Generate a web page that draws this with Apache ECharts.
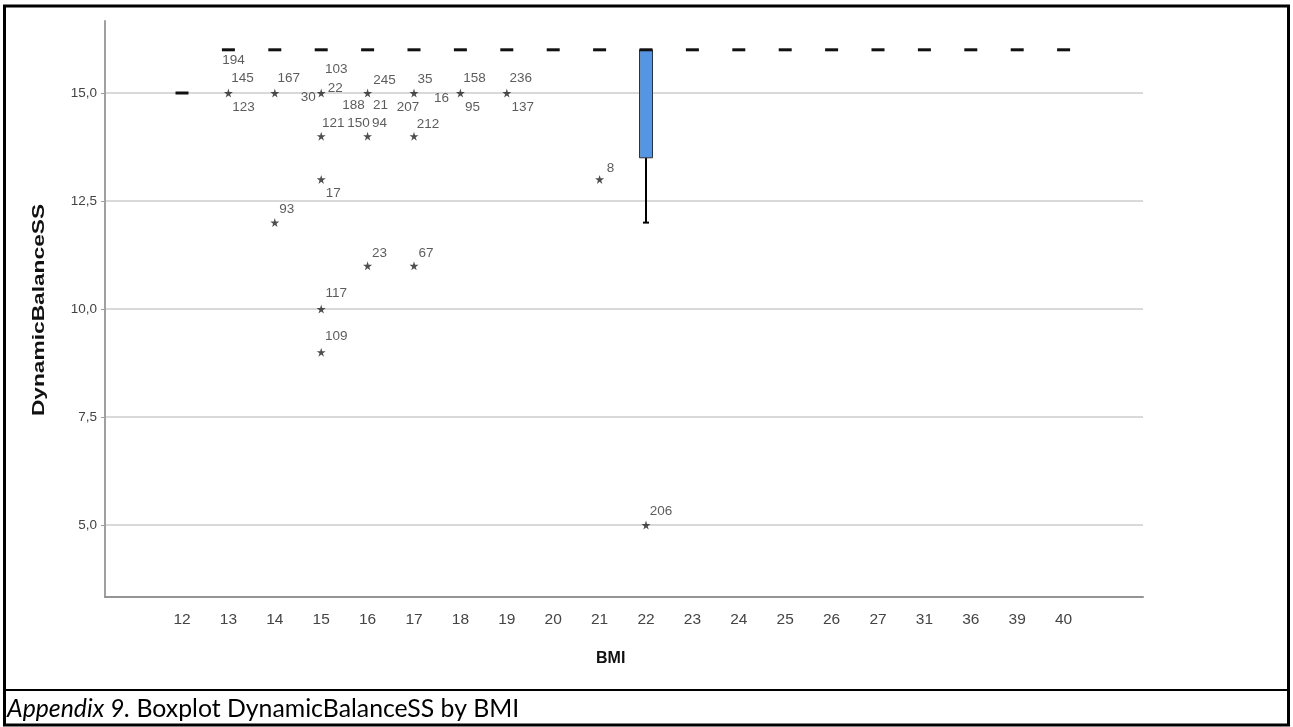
<!DOCTYPE html>
<html>
<head>
<meta charset="utf-8">
<script src="https://cdn.jsdelivr.net/npm/echarts@6/dist/echarts.min.js"></script>
<style>
  html, body { margin: 0; padding: 0; background: #fff; }
  #chart { width: 1293px; height: 727px; }
</style>
</head>
<body>
<div id="chart"></div>
<script>
// BMI groups on the x axis
const categories = ['12', '13', '14', '15', '16', '17', '18', '19', '20', '21',
  '22', '23', '24', '25', '26', '27', '31', '36', '39', '40'];

// min, q1, median, q3, max for each BMI group
const boxStats = [
  [15, 15, 15, 15, 15],
  [16, 16, 16, 16, 16],
  [16, 16, 16, 16, 16],
  [16, 16, 16, 16, 16],
  [16, 16, 16, 16, 16],
  [16, 16, 16, 16, 16],
  [16, 16, 16, 16, 16],
  [16, 16, 16, 16, 16],
  [16, 16, 16, 16, 16],
  [16, 16, 16, 16, 16],
  [12, 13.5, 16, 16, 16],
  [16, 16, 16, 16, 16],
  [16, 16, 16, 16, 16],
  [16, 16, 16, 16, 16],
  [16, 16, 16, 16, 16],
  [16, 16, 16, 16, 16],
  [16, 16, 16, 16, 16],
  [16, 16, 16, 16, 16],
  [16, 16, 16, 16, 16],
  [16, 16, 16, 16, 16]
];

// extreme values (stars)
const extremes = [
  ['13', 15], ['14', 15], ['15', 15], ['16', 15], ['17', 15], ['18', 15], ['19', 15],
  ['15', 14], ['16', 14], ['17', 14],
  ['15', 13], ['21', 13],
  ['14', 12],
  ['16', 11], ['17', 11],
  ['15', 10],
  ['15', 9],
  ['22', 5]
];

// case numbers printed next to the stars
const caseLabels = [
  ['13', 15, '194'], ['13', 15, '145'], ['13', 15, '123'],
  ['14', 15, '167'],
  ['15', 15, '103'], ['15', 15, '22'], ['15', 15, '30'],
  ['16', 15, '245'], ['16', 15, '188'], ['16', 15, '21'],
  ['17', 15, '35'], ['17', 15, '207'],
  ['18', 15, '16'], ['18', 15, '158'], ['18', 15, '95'],
  ['19', 15, '236'], ['19', 15, '137'],
  ['15', 14, '121'], ['16', 14, '150'], ['16', 14, '94'], ['17', 14, '212'],
  ['15', 13, '17'], ['21', 13, '8'],
  ['14', 12, '93'],
  ['16', 11, '23'], ['17', 11, '67'],
  ['15', 10, '117'],
  ['15', 9, '109'],
  ['22', 5, '206']
];

const yTicks = [5, 7.5, 10, 12.5, 15];

// where each case number sits relative to its star (px)
const labelOffset = {
  '194': [5, -33], '145': [14, -15], '123': [15, 14], '167': [14, -15],
  '103': [15, -24], '22': [14, -5], '30': [-13, 4],
  '245': [17, -13], '188': [-14, 12], '21': [13, 12],
  '35': [11, -14], '207': [-6, 14], '16': [-19, 5],
  '158': [14, -15], '95': [12, 14], '236': [14, -15], '137': [16, 14],
  '121': [12, -13], '150': [-9, -13], '94': [12, -13], '212': [14, -12],
  '17': [12, 14], '8': [11, -11], '93': [12, -13], '23': [12, -13], '67': [12, -13],
  '117': [15, -16], '109': [15, -16], '206': [15, -14]
};

const FONT = "'Liberation Sans', Arial, sans-serif";
const Y_MIN = 5 - 72 / 43.2;
const Y_MAX = 15 + 72 / 43.2;
const STAR = 'path://M50,0 L61,35 L98,35 L68,57 L79,91 L50,70 L21,91 L32,57 L2,35 L39,35 Z';

let myChart = echarts.init(document.getElementById('chart'));

let boxData = boxStats.map((s, i) => [i].concat(s));

let option = {
  backgroundColor: '#ffffff',
  animation: false,
  textStyle: { fontFamily: FONT },
  grid: [
    { left: 105, top: 21, width: 1038, height: 576 },
    { left: 158.8, top: 21, width: 928, height: 576 }
  ],
  xAxis: [
    {
      gridIndex: 0, type: 'value', min: 0, max: 1,
      axisLine: { show: true, lineStyle: { color: '#949494', width: 2 } },
      axisTick: { show: false }, axisLabel: { show: false }, splitLine: { show: false }
    },
    {
      gridIndex: 1, type: 'category', data: categories, boundaryGap: true,
      axisLine: { show: false }, axisTick: { show: false }, splitLine: { show: false },
      axisLabel: { color: '#444', fontSize: 15.5, margin: 15, fontFamily: FONT }
    }
  ],
  yAxis: [
    {
      gridIndex: 0, type: 'value', min: Y_MIN, max: Y_MAX,
      axisLine: { show: true, lineStyle: { color: '#a0a0a0', width: 2 } },
      axisTick: { show: true, length: 4, customValues: yTicks, lineStyle: { color: '#a0a0a0' } },
      axisLabel: {
        customValues: yTicks, margin: 8, color: '#444', fontSize: 13.5, fontFamily: FONT,
        formatter: v => v.toFixed(1).replace('.', ',')
      },
      splitLine: { show: true, lineStyle: { color: '#d9d9d9', width: 2 } }
    },
    {
      gridIndex: 1, type: 'value', min: Y_MIN, max: Y_MAX, show: false,
      splitLine: { show: false }
    }
  ],
  series: [
    {
      type: 'custom',
      xAxisIndex: 1, yAxisIndex: 1,
      data: boxData,
      renderItem: function (params, api) {
        let idx = api.value(0);
        let lo = api.coord([idx, api.value(1)]);
        let q1 = api.coord([idx, api.value(2)]);
        let med = api.coord([idx, api.value(3)]);
        let q3 = api.coord([idx, api.value(4)]);
        let hi = api.coord([idx, api.value(5)]);
        let x = med[0];
        let w = 13;
        let children = [];
        if (q1[1] - q3[1] > 0.5) {
          children.push({
            type: 'line', shape: { x1: x, y1: q1[1], x2: x, y2: lo[1] },
            style: { stroke: '#000', lineWidth: 2 }
          });
          children.push({
            type: 'line', shape: { x1: x - 3, y1: lo[1], x2: x + 3, y2: lo[1] },
            style: { stroke: '#000', lineWidth: 2 }
          });
          children.push({
            type: 'line', shape: { x1: x, y1: q3[1], x2: x, y2: hi[1] },
            style: { stroke: '#000', lineWidth: 2 }
          });
          children.push({
            type: 'rect', shape: { x: x - w / 2, y: q3[1], width: w, height: q1[1] - q3[1] },
            style: { fill: '#5596e4', stroke: '#333', lineWidth: 1 }
          });
        }
        children.push({
          type: 'line', shape: { x1: x - w / 2, y1: med[1], x2: x + w / 2, y2: med[1] },
          style: { stroke: '#111', lineWidth: 3 }
        });
        return { type: 'group', children: children };
      },
      z: 3
    },
    {
      type: 'scatter',
      xAxisIndex: 1, yAxisIndex: 1,
      symbol: STAR, symbolSize: 9,
      itemStyle: { color: '#222' },
      data: extremes,
      z: 4
    },
    {
      type: 'scatter',
      xAxisIndex: 1, yAxisIndex: 1,
      symbolSize: 1,
      itemStyle: { color: 'transparent' },
      data: caseLabels.map(d => ({
        value: d,
        label: { offset: labelOffset[d[2]] || [12, -13] }
      })),
      label: {
        show: true, position: 'inside', color: '#333', fontSize: 13.5, fontFamily: FONT,
        formatter: p => p.value[2]
      },
      z: 5
    }
  ],
  graphic: [
    {
      type: 'rect', silent: true,
      shape: { x: 4.5, y: 6, width: 1284, height: 719 },
      style: { fill: 'none', stroke: '#000', lineWidth: 3 }
    },
    {
      type: 'line', silent: true,
      shape: { x1: 4.5, y1: 690, x2: 1288.5, y2: 690 },
      style: { stroke: '#000', lineWidth: 2 }
    },
    {
      // y axis title, stretched along its length like the source image
      type: 'text', x: 40, y: 310, rotation: Math.PI / 2, scaleX: 1.42,
      style: {
        text: 'DynamicBalanceSS', fill: '#111', font: 'bold 16px ' + FONT,
        align: 'center', verticalAlign: 'middle'
      }
    },
    {
      type: 'text', left: 596, top: 651,
      style: { text: 'BMI', fill: '#111', font: 'bold 16px ' + FONT }
    },
    {
      type: 'text', left: 7, top: 697,
      style: {
        text: '{i|Appendix 9.}{n| Boxplot DynamicBalanceSS by BMI}',
        rich: {
          i: { fontFamily: 'Lato', fontStyle: 'italic', fontSize: 24.8, fill: '#000' },
          n: { fontFamily: 'Lato', fontSize: 24.8, fill: '#000' }
        }
      }
    }
  ]
};

myChart.setOption(option);

window.addEventListener('resize', function () {
  myChart.resize();
});
</script>
</body>
</html>
